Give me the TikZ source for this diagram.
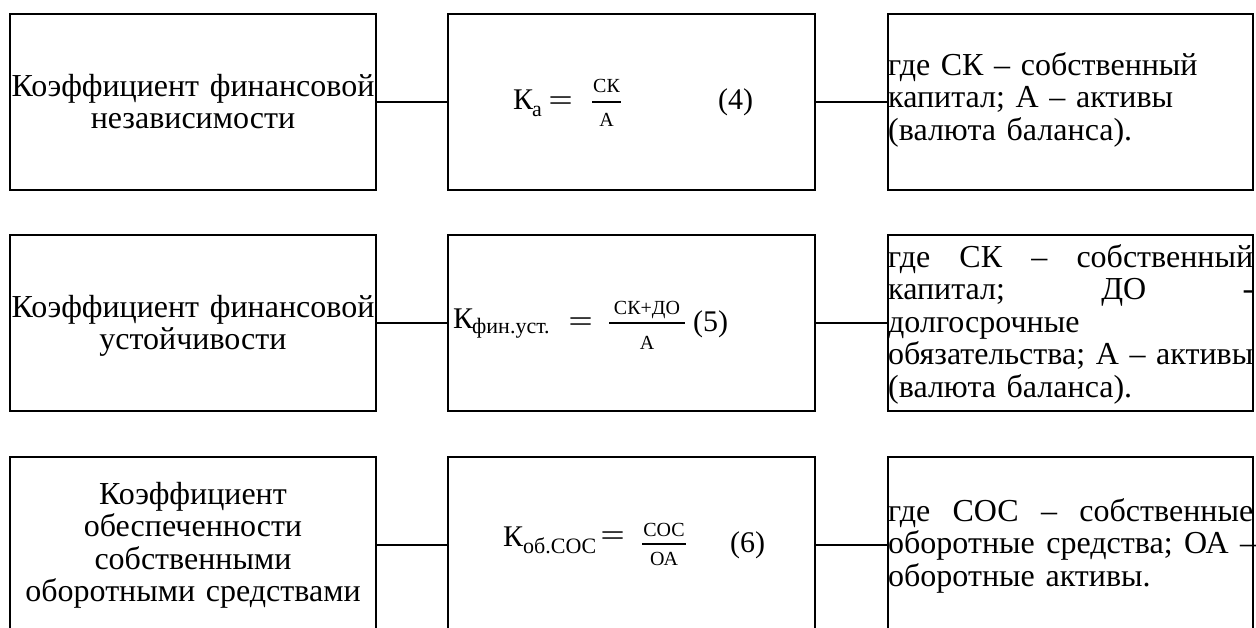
\documentclass[tikz,border=0pt]{standalone}
\usepackage{fontspec}
\setmainfont{Liberation Serif}
\begin{document}
\begin{tikzpicture}[x=1pt,y=-1pt,
  box/.style={draw=black,line width=1.8pt,minimum width=#1,minimum height=176pt,inner sep=0pt},
  conn/.style={draw=black,line width=1.8pt},
  txt/.style={font=\fontsize{32}{32.5}\selectfont,inner sep=0pt,text width=380pt},
  fk/.style={font=\fontsize{30}{30}\selectfont,inner sep=0pt,anchor=base west},
  fsub/.style={font=\fontsize{22}{22}\selectfont,inner sep=0pt,anchor=base west},
  ffr/.style={font=\fontsize{20}{20}\selectfont,inner sep=0pt,anchor=base},
  feq/.style={font=\fontsize{30}{30}\selectfont,inner sep=0pt,anchor=base west,xscale=1.45},
  fracbar/.style={draw=black,line width=2pt}]
\useasboundingbox (0,0) rectangle (1256,628);
\clip (0,0) rectangle (1256,628);

% boxes
\node[box=366pt] (l1) at (193,102) {};
\node[box=367pt] (m1) at (631.5,102) {};
\node[box=365pt] (r1) at (1070.5,102) {};
\node[box=366pt] (l2) at (193,323) {};
\node[box=367pt] (m2) at (631.5,323) {};
\node[box=365pt] (r2) at (1070.5,323) {};
\node[box=366pt] (l3) at (193,545) {};
\node[box=367pt] (m3) at (631.5,545) {};
\node[box=365pt] (r3) at (1070.5,545) {};

% connectors
\draw[conn] (l1.east) -- (m1.west);
\draw[conn] (m1.east) -- (r1.west);
\draw[conn] (l2.east) -- (m2.west);
\draw[conn] (m2.east) -- (r2.west);
\draw[conn] (l3.east) -- (m3.west);
\draw[conn] (m3.east) -- (r3.west);

% left texts
\node[txt,align=center,anchor=north] (tl1) at (193,74) {\rule{0pt}{22pt}Коэффициент финансовой\\независимости};
\node[txt,align=center,anchor=north] (tl2) at (193,295) {\rule{0pt}{22pt}Коэффициент финансовой\\устойчивости};
\node[txt,align=center,anchor=north] (tl3) at (193,482) {\rule{0pt}{22pt}Коэффициент\\обеспеченности\\собственными\\оборотными средствами};

% right texts
\node[txt,align=left,anchor=north west] (tr1) at (888,52) {\rule{0pt}{22pt}где СК – собственный\\капитал; А – активы\\(валюта баланса).};
\node[txt,align=left,anchor=north west] (tr2) at (888,244) {\rule{0pt}{22pt}\makebox[365pt][l]{где \hfill СК \hfill – \hfill собственный}\\\makebox[365pt][l]{капитал; \hfill ДО \hfill -}\\долгосрочные\\\makebox[365pt][l]{обязательства; \hfill А \hfill – \hfill активы}\\(валюта баланса).};
\node[txt,align=left,anchor=north west] (tr3) at (888,498) {\rule{0pt}{22pt}\makebox[365pt][l]{где \hfill СОС \hfill – \hfill собственные}\\\makebox[368pt][l]{оборотные \hfill средства; \hfill ОА \hfill –}\\оборотные активы.};

% formula 1
\node[fk] (k1) at (513,110) {К};
\node[fsub] (s1) at (532,117) {а};
\node[feq] (e1) at (548,111) {=};
\node[ffr] (n1) at (606.5,93) {СК};
\node[ffr] (d1) at (606.5,127) {А};
\draw[fracbar] (592,102.3) -- (621,102.3);
\node[fk] (q1) at (718,110) {(4)};

% formula 2
\node[fk] (k2) at (453,329) {К};
\node[fsub] (s2) at (472,334) {фин.уст.};
\node[feq] (e2) at (568,332) {=};
\node[ffr] (n2) at (647,315) {СК+ДО};
\node[ffr] (d2) at (647,350) {А};
\draw[fracbar] (609,323.3) -- (685,323.3);
\node[fk] (q2) at (693,332) {(5)};

% formula 3
\node[fk] (k3) at (503,546) {К};
\node[fsub] (s3) at (523,553) {об.СОС};
\node[feq] (e3) at (600,545) {=};
\node[ffr] (n3) at (664,536) {СОС};
\node[ffr] (d3) at (664,565) {ОА};
\draw[fracbar] (642,544) -- (686,544);
\node[fk] (q3) at (730,552) {(6)};
\end{tikzpicture}
\end{document}
